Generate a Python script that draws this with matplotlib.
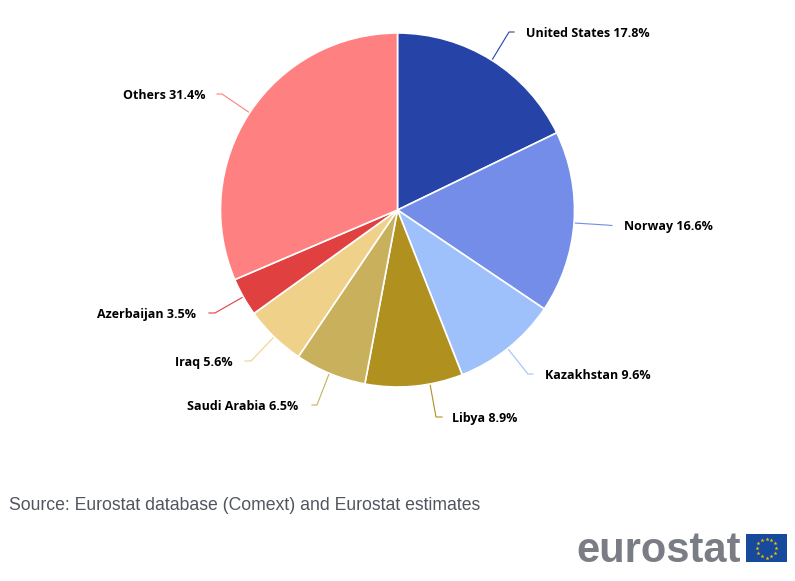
import matplotlib
matplotlib.use('Agg')
import matplotlib.pyplot as plt
from matplotlib.patches import Rectangle
import numpy as np

countries = ['United States', 'Norway', 'Kazakhstan', 'Libya', 'Saudi Arabia', 'Iraq', 'Azerbaijan', 'Others']
shares = [17.8, 16.6, 9.6, 8.9, 6.5, 5.6, 3.5, 31.4]
colours = ['#2644A7', '#738DE9', '#9FC1FB', '#B09120', '#C8B05C', '#F0D18A', '#E04040', '#FF8080']

W, H = 795, 581
fig = plt.figure(figsize=(W / 100, H / 100), dpi=100)
ax = fig.add_axes([0, 0, 1, 1])
ax.set_xlim(0, W)
ax.set_ylim(H, 0)
ax.axis('off')

cx, cy, r = 397.5, 210, 177

# pie is drawn in a separate axes so that it stays a real pie
pie_ax = fig.add_axes([(cx - r) / W, 1 - (cy + r) / H, 2 * r / W, 2 * r / H])
wedges, _ = pie_ax.pie(shares, colors=colours, startangle=90, counterclock=False, radius=1,
                       wedgeprops={'edgecolor': 'white', 'linewidth': 1.2})
pie_ax.set_xlim(-1, 1)
pie_ax.set_ylim(-1, 1)

# label anchor and leader line end, in pixels
label_xy = [(526, 33.6), (624, 226.6), (545, 375.6), (452, 418.6), (187, 406), (175, 362.6), (97, 314.6), (123, 95.6)]
line_pts = [[(492, 60), (509, 32), (514, 32)],
            [(574, 223), (606, 225), (612, 225.5)],
            [(508, 349), (528, 374), (533, 374)],
            [(430, 384), (436, 417), (442, 417)],
            [(329, 374), (317, 405), (312, 405)],
            [(274, 337), (251, 361), (245, 361)],
            [(243, 297), (215, 313), (209, 313)],
            [(250, 113), (222, 94), (217, 94)]]

for c, s, col, (lx, ly), pts in zip(countries, shares, colours, label_xy, line_pts):
    xs, ys = zip(*pts)
    ax.plot(xs, ys, color=col, lw=0.8)
    ax.text(lx, ly, f'{c} {s}%', fontsize=9, fontweight='bold', family='Open Sans', va='center', ha='left', color='black')

ax.text(9, 505, 'Source: Eurostat database (Comext) and Eurostat estimates', fontsize=12.7,
        family='Liberation Sans', color='#51565e', va='center')
ax.text(576, 551, 'eurostat', fontsize=30, fontweight='bold', family='Liberation Sans', color='#7a7d85', va='center')

ax.add_patch(Rectangle((746, 534), 41, 28, color='#174A9C', lw=0))
star_ang = np.arange(12) * np.pi / 6
ax.scatter(766.5 + 9.5 * np.cos(star_ang), 548 + 9.5 * np.sin(star_ang), marker='*', s=9, color='#F5C400', lw=0)

fig.savefig('out.png', dpi=100)
